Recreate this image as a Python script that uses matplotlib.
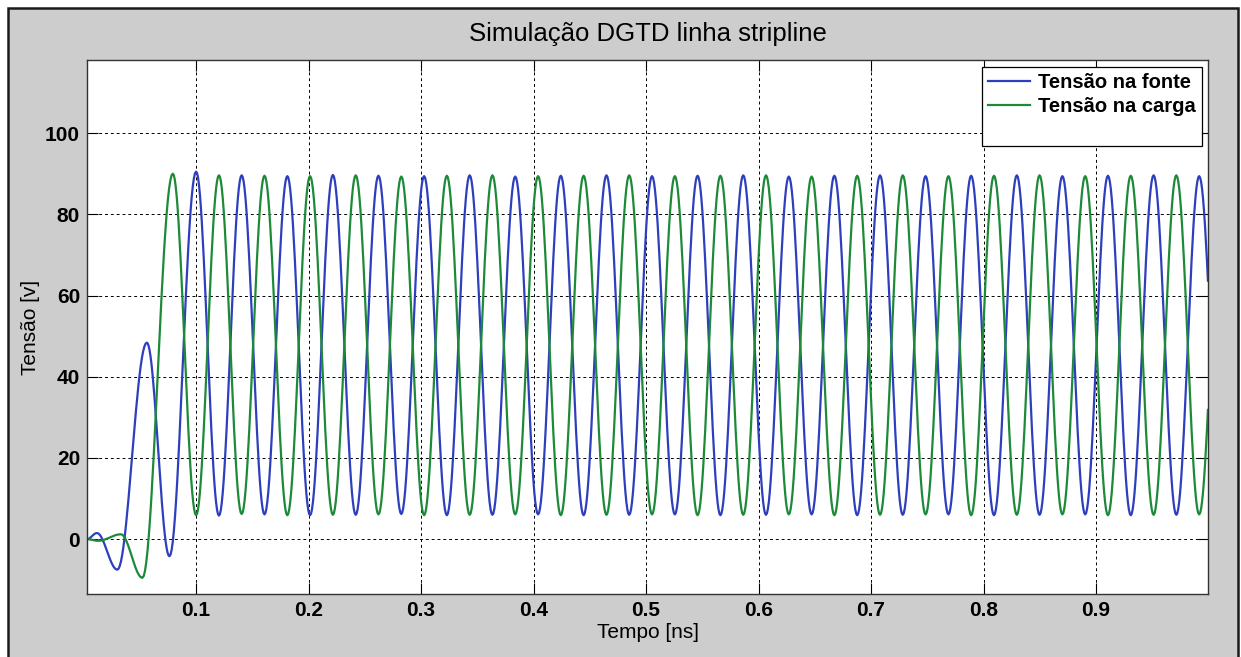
import numpy as np
import matplotlib.pyplot as plt
from matplotlib.patches import Rectangle
from matplotlib.lines import Line2D

plt.rcParams['font.family'] = ['Liberation Sans', 'DejaVu Sans']

# extremos (tempo em ns, tensao em V)
t_fonte_ini = [0.003, 0.0118, 0.030, 0.0562, 0.0763]
v_fonte_ini = [0.0, 1.5, -7.5, 48.4, -4.2]

t_carga_ini = [0.003, 0.013, 0.0331, 0.0523, 0.0793]
v_carga_ini = [0.0, -0.4, 1.2, -9.5, 90.0]

# regime: mesmos instantes para as duas linhas (pico / vale alternados)
t_reg = [0.1000, 0.1203, 0.1405, 0.1608, 0.1811, 0.2013, 0.2216, 0.2419, 0.2621, 0.2824,
         0.3027, 0.3229, 0.3432, 0.3634, 0.3837, 0.4040, 0.4242, 0.4445, 0.4648, 0.4850,
         0.5053, 0.5256, 0.5458, 0.5661, 0.5864, 0.6066, 0.6269, 0.6472, 0.6674, 0.6877,
         0.7080, 0.7282, 0.7485, 0.7688, 0.7890, 0.8093, 0.8296, 0.8498, 0.8701, 0.8904,
         0.9106, 0.9309, 0.9512, 0.9714, 0.9917, 1.0125]
v_fonte_reg = [90.5, 5.8, 89.6, 6.1, 89.4, 5.9, 89.7, 6.0, 89.5, 6.2,
               89.4, 5.9, 89.6, 6.0, 89.3, 6.1, 89.5, 5.9, 89.6, 6.0,
               89.4, 6.1, 89.5, 5.9, 89.6, 6.0, 89.3, 6.1, 89.5, 5.9,
               89.6, 6.0, 89.4, 6.1, 89.5, 5.9, 89.6, 6.0, 89.4, 6.1,
               89.5, 5.9, 89.6, 6.0, 89.4, 6.0]
v_carga_reg = [5.9, 89.6, 6.2, 89.5, 5.9, 89.4, 6.0, 89.6, 6.1, 89.3,
               5.9, 89.5, 6.0, 89.6, 6.1, 89.4, 5.9, 89.5, 6.0, 89.6,
               6.1, 89.4, 5.9, 89.5, 6.0, 89.6, 6.1, 89.3, 5.9, 89.5,
               6.0, 89.6, 6.1, 89.4, 5.9, 89.5, 6.0, 89.6, 6.1, 89.4,
               5.9, 89.5, 6.0, 89.6, 6.1, 89.5]

t_fim = 1.0
x_ticks = [0.1, 0.2, 0.3, 0.4, 0.5, 0.6, 0.7, 0.8, 0.9]
y_ticks = [0, 20, 40, 60, 80, 100]


def curva(t, v, n=24):
    # liga os extremos com meia cossenoide
    tt, vv = [], []
    for i in range(len(t) - 1):
        s = np.linspace(0, 1, n, endpoint=False)
        tt.append(t[i] + (t[i + 1] - t[i]) * s)
        vv.append(v[i] + (v[i + 1] - v[i]) * (1 - np.cos(np.pi * s)) / 2)
    tt.append([t[-1]])
    vv.append([v[-1]])
    tt = np.concatenate(tt)
    vv = np.concatenate(vv)
    m = tt <= t_fim
    return tt[m], vv[m]


tf, vf = curva(t_fonte_ini + t_reg, v_fonte_ini + v_fonte_reg)
tc, vc = curva(t_carga_ini + t_reg, v_carga_ini + v_carga_reg)

fig = plt.figure(figsize=(12.41, 6.57), dpi=100)
fig.patch.set_facecolor('white')
fig.patches.append(Rectangle((8 / 1241, -0.02), (1238 - 8) / 1241, 1.02 - 8 / 657,
                             transform=fig.transFigure, facecolor='#cdcdcd',
                             edgecolor='#1a1a1a', linewidth=1.8, zorder=-10))

ax = fig.add_axes([87 / 1241, 1 - 594 / 657, (1208.5 - 87) / 1241, (594 - 60) / 657])
ax.set_facecolor('white')

ax.plot(tf, vf, color='#2d3fbd', lw=1.6, label='Tensão na fonte')
ax.plot(tc, vc, color='#1d8a38', lw=1.6, label='Tensão na carga')

ax.set_xlim(0.003, t_fim)
ax.set_ylim(-13.5, 118)
ax.set_xticks(x_ticks)
ax.set_xticklabels([str(x) for x in x_ticks])
ax.set_yticks(y_ticks)
ax.tick_params(direction='in', top=True, right=True, length=8, width=0.8,
               labelsize=15, pad=5, colors='black')
for lbl in ax.get_xticklabels() + ax.get_yticklabels():
    lbl.set_fontweight('bold')
ax.grid(True, color='black', linestyle=(0, (3, 3)), linewidth=0.7)
for sp in ax.spines.values():
    sp.set_color('#333333')
    sp.set_linewidth(1.0)

ax.set_title('Simulação DGTD linha stripline', fontsize=18.5, pad=14)
ax.set_xlabel('Tempo [ns]', fontsize=15, labelpad=2)
ax.set_ylabel('Tensão [v]', fontsize=15, labelpad=4)

handles, labels = ax.get_legend_handles_labels()
handles.append(Line2D([], [], color='none'))
labels.append(' ')
leg = ax.legend(handles, labels, loc='upper right', bbox_to_anchor=(0.9942, 0.987),
                borderaxespad=0, frameon=True, fancybox=False, framealpha=1,
                edgecolor='black', handlelength=2.1, handletextpad=0.4,
                labelspacing=0.25, borderpad=0.3, prop={'weight': 'bold', 'size': 14.5})
leg.get_frame().set_linewidth(0.9)

fig.savefig('out.png', dpi=100)
